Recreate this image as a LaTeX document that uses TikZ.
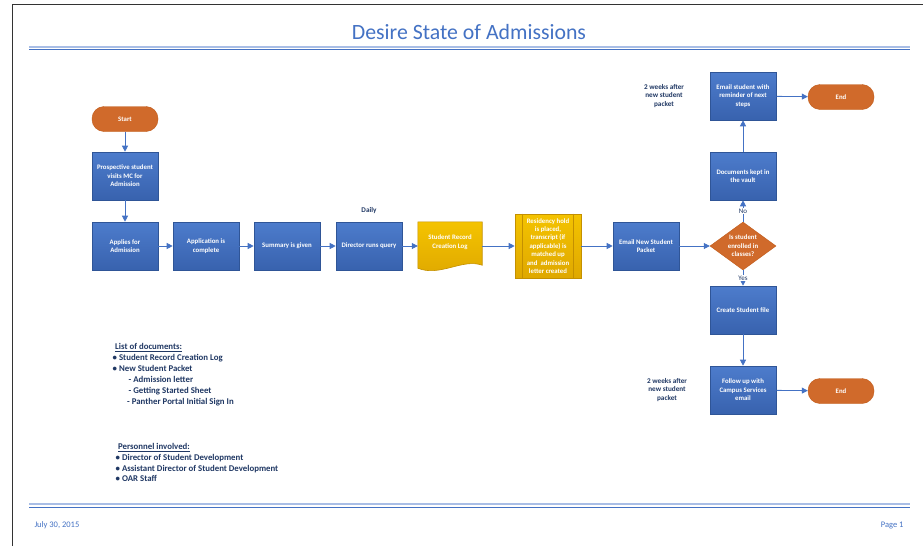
\documentclass[tikz,border=0pt]{standalone}
\usepackage{fontspec}
\setmainfont{Carlito}
\usetikzlibrary{shapes.geometric,arrows.meta}

\definecolor{boxtop}{HTML}{4D7CCC}
\definecolor{boxbot}{HTML}{3862AE}
\definecolor{boxline}{HTML}{2F5597}
\definecolor{flowblue}{HTML}{4472C4}
\definecolor{termorange}{HTML}{D06A2B}
\definecolor{termline}{HTML}{C05A18}
\definecolor{logtop}{HTML}{F4C300}
\definecolor{logbot}{HTML}{DFA800}
\definecolor{logline}{HTML}{C49000}
\definecolor{navy}{HTML}{203864}
\definecolor{rulelight}{HTML}{A9BEE6}

\tikzset{
  boxtext/.style={text=white, align=center, font=\bfseries\fontsize{6.8}{8.4}\selectfont},
  proc/.style={rectangle, boxtext, draw=boxline, line width=0.6pt, top color=boxtop, bottom color=boxbot,
    minimum width=66pt, minimum height=48pt, inner sep=1pt},
  yellowbox/.style={proc, draw=logline, top color=logtop, bottom color=logbot},
  term/.style={rectangle, boxtext, rounded corners=12pt, draw=termline, fill=termorange,
    minimum width=66pt, minimum height=25pt},
  decide/.style={diamond, boxtext, aspect=1.35, draw=termline, fill=termorange,
    minimum width=66pt, minimum height=48pt, inner sep=0pt},
  note/.style={text=navy, align=center, font=\bfseries\fontsize{7.2}{8.5}\selectfont},
  flow/.style={draw=flowblue, line width=0.8pt, -{Triangle[length=6pt,width=6pt]}},
}

\begin{document}
\begin{tikzpicture}[x=1pt, y=-1pt]
  \useasboundingbox (0,0) rectangle (923,546);
  \fill[white] (0,0) rectangle (923,546);

  % page frame and rules
  \draw[line width=1.3pt, black!80] (12.5,546) -- (12.5,4.5) -- (923,4.5);
  \draw[line width=2pt, rulelight] (29,46.5) -- (910,46.5);
  \draw[line width=0.8pt, flowblue] (29,49.8) -- (910,49.8);
  \draw[line width=2pt, rulelight] (29,504.3) -- (910,504.3);
  \draw[line width=0.8pt, flowblue] (29,507.8) -- (910,507.8);

  \node (title) [text=flowblue, font=\fontsize{21.8}{26}\selectfont] at (469,32) {Desire State of Admissions};

  % main row
  \node (start) [term] at (125,119) {Start};
  \node (visit) [proc] at (125,176) {Prospective student\\visits MC for\\Admission};
  \node (apply) [proc] at (125,246) {Applies for\\Admission};
  \node (complete) [proc] at (206,246) {Application is\\complete};
  \node (summary) [proc] at (287,246) {Summary is given};
  \node (query) [proc] at (369,246) {Director runs query};
  \node (daily) [note] at (369,211) {Daily};

  \node (log) [minimum width=64pt, minimum height=48pt, inner sep=0pt] at (450,246) {};
  \path[draw=logline, line width=0.6pt, top color=logtop, bottom color=logbot]
    (log.north west) -- (log.north east) -- ([yshift=5pt]log.south east)
    .. controls ([xshift=-20pt,yshift=12pt]log.south east) and ([xshift=22pt,yshift=-7pt]log.south west)
    .. ([yshift=2pt]log.south west) -- cycle;
  \node (logtext) [boxtext] at (450,242) {Student Record\\Creation Log};

  \node (hold) [yellowbox, minimum height=64pt] at (548,246)
    {Residency hold\\is placed,\\transcript (if\\applicable) is\\matched up\\and\ \ admission\\letter created};
  \draw[logline, line width=0.6pt] ([xshift=8pt]hold.north west) -- ([xshift=8pt]hold.south west);
  \draw[logline, line width=0.6pt] ([xshift=-8pt]hold.north east) -- ([xshift=-8pt]hold.south east);

  \node (packet) [proc] at (646,246) {Email New Student\\Packet};
  \node (enrolled) [decide] at (743,246) {Is student\\enrolled in\\classes?};

  % upper branch
  \node (vault) [proc] at (743,176) {Documents kept in\\the vault};
  \node (remind) [proc] at (743,96) {Email student with\\reminder of next\\steps};
  \node (endtop) [term] at (841,97) {End};
  \node (weekstop) [note] at (664,96) {2 weeks after\\new student\\packet};

  % lower branch
  \node (file) [proc] at (743,310) {Create Student file};
  \node (follow) [proc] at (743,390) {Follow up with\\Campus Services\\email};
  \node (endlow) [term] at (841,391) {End};
  \node (weekslow) [note] at (667,390) {2 weeks after\\new student\\packet};

  \draw[flow] (start) -- (visit);
  \draw[flow] (visit) -- (apply);
  \draw[flow] (apply) -- (complete);
  \draw[flow] (complete) -- (summary);
  \draw[flow] (summary) -- (query);
  \draw[flow] (query) -- (log);
  \draw[flow] (log) -- (hold);
  \draw[flow] (hold) -- (packet);
  \draw[flow] (packet) -- (enrolled);
  \draw[flow] (enrolled) -- node[note, fill=white, inner sep=1pt, font=\fontsize{7}{8}\selectfont] {No} (vault);
  \draw[flow] (vault) -- (remind);
  \draw[flow] (remind) -- (endtop);
  \draw[flow] (enrolled) -- node[note, fill=white, inner sep=1pt, font=\fontsize{7}{8}\selectfont] {Yes} (file);
  \draw[flow] (file) -- (follow);
  \draw[flow] (follow) -- (endlow);

  % lists
  \node (docs) [anchor=north west, text=navy, align=left, inner sep=0pt,
    font=\bfseries\fontsize{8.8}{10.9}\selectfont] at (112.5,343.5)
    {\hspace{2.5pt}\underline{List of documents:}\\
     \textbullet\ Student Record Creation Log\\
     \textbullet\ New Student Packet\\
     \hspace{16pt}- Admission letter\\
     \hspace{16pt}- Getting Started Sheet\\
     \hspace{14.5pt}- Panther Portal Initial Sign In};
  \node (staff) [anchor=north west, text=navy, align=left, inner sep=0pt,
    font=\bfseries\fontsize{8.8}{10.6}\selectfont] at (115.5,443.5)
    {\hspace{2.5pt}\underline{Personnel involved:}\\
     \textbullet\ Director of Student Development\\
     \textbullet\ Assistant Director of Student Development\\
     \textbullet\ OAR Staff};

  % footer
  \node (date) [anchor=west, text=flowblue, font=\fontsize{8.5}{10}\selectfont] at (31,525) {July 30, 2015};
  \node (page) [anchor=east, text=flowblue, font=\fontsize{8.5}{10}\selectfont] at (907,525) {Page 1};
\end{tikzpicture}
\end{document}
